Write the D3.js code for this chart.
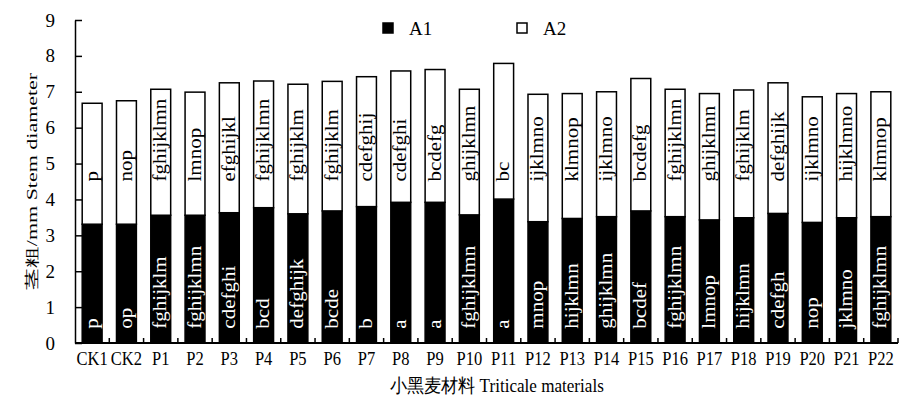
<!DOCTYPE html>
<html>
<head>
<meta charset="utf-8">
<script src="https://cdn.jsdelivr.net/npm/d3@7"></script>
<style>
  body { margin: 0; background: #fff; }
  svg { display: block; font-family: "Liberation Serif", "Times New Roman", serif; }
</style>
</head>
<body>
<div id="chart"></div>
<script>
// categories and values
const categories = ["CK1", "CK2", "P1", "P2", "P3", "P4", "P5", "P6", "P7", "P8", "P9", "P10",
  "P11", "P12", "P13", "P14", "P15", "P16", "P17", "P18", "P19", "P20", "P21", "P22"]
const a1Values = [3.31, 3.31, 3.56, 3.56, 3.63, 3.77, 3.60, 3.68, 3.80, 3.92, 3.92, 3.57,
  4.01, 3.38, 3.47, 3.52, 3.68, 3.52, 3.43, 3.49, 3.61, 3.36, 3.49, 3.52]
const a2Values = [3.37, 3.44, 3.51, 3.43, 3.62, 3.53, 3.61, 3.61, 3.62, 3.66, 3.70, 3.50,
  3.78, 3.55, 3.48, 3.48, 3.69, 3.55, 3.52, 3.56, 3.64, 3.50, 3.46, 3.48]
const a1Letters = ["p", "op", "fghijklm", "fghijklmn", "cdefghi", "bcd", "defghijk", "bcde", "b", "a", "a", "fghijklmn",
  "a", "mnop", "hijklmn", "ghijklmn", "bcdef", "fghijklmn", "lmnop", "hijklmn", "cdefgh", "nop", "jklmno", "fghijklmn"]
const a2Letters = ["p", "nop", "fghijklmn", "lmnop", "efghijkl", "fghijklmn", "fghijklm", "fghijklm", "cdefghij", "cdefghi", "bcdefg", "ghijklmn",
  "bc", "ijklmno", "klmnop", "ijklmno", "bcdefg", "fghijklmn", "ghijklmn", "fghijklm", "defghijk", "ijklmno", "hijklmno", "klmnop"]
const yTicks = [0, 1, 2, 3, 4, 5, 6, 7, 8, 9]
const seriesNames = ["A1", "A2"]

const anchoTotal = 903
const altoTotal = 406
const svg = d3.select("#chart")
  .append("svg")
  .attr("width", anchoTotal)
  .attr("height", altoTotal)

const x = d3.scaleBand()
  .domain(categories)
  .range([75, 898])
  .paddingInner(0.42)
  .paddingOuter(0.21)
const y = d3.scaleLinear()
  .domain([0, 9])
  .range([343, 20])

const tabla = categories.map((c, i) => ({ cat: c, A1: a1Values[i], A2: a2Values[i] }))
const series = d3.stack().keys(seriesNames)(tabla)
const fills = { A1: "#000", A2: "#fff" }

// bars
svg.append("g")
  .selectAll("g")
  .data(series)
  .join("g")
  .attr("fill", (s) => fills[s.key])
  .selectAll("rect")
  .data((s) => s)
  .join("rect")
  .attr("x", (d) => x(d.data.cat))
  .attr("y", (d) => y(d[1]))
  .attr("width", x.bandwidth())
  .attr("height", (d) => y(d[0]) - y(d[1]))
  .attr("stroke", "#000")
  .attr("stroke-width", 1.5)

// letters inside the bars
const letras = (arr, base, color) => {
  svg.append("g")
    .selectAll("text")
    .data(arr)
    .join("text")
    .attr("transform", (d, i) => `translate(${x(categories[i]) + x.bandwidth() / 2}, ${y(base)}) scale(0.88,1) rotate(-90)`)
    .attr("dy", "0.3em")
    .attr("font-size", 21)
    .attr("fill", color)
    .text((d) => d)
}
letras(a1Letters, 0.4, "#fff")
letras(a2Letters, 4.5, "#000")

// y axis
const yAxis = d3.axisLeft(y).tickValues(yTicks).tickSizeInner(-7).tickSizeOuter(0).tickPadding(20)
const gy = svg.append("g")
  .attr("transform", "translate(75,0)")
  .call(yAxis)
gy.select(".domain").attr("stroke-width", 1.5)
gy.selectAll(".tick line").attr("stroke-width", 1.5)
gy.selectAll("text").attr("font-size", 19).attr("font-family", "Liberation Serif").attr("fill", "#000")

// x axis
const xAxis = d3.axisBottom(x).tickSize(0).tickPadding(9)
const gx = svg.append("g")
  .attr("transform", "translate(0,343)")
  .call(xAxis)
gx.select(".domain").attr("stroke-width", 2).attr("d", "M75,0H898")
gx.selectAll(".tick text")
  .attr("font-size", 19)
  .attr("font-family", "Liberation Serif")
  .attr("fill", "#000")
  .attr("transform", "scale(0.87,1)")
gx.selectAll(".sep")
  .data(categories)
  .join("line")
  .attr("class", "sep")
  .attr("x1", (d) => x(d) + x.bandwidth() + (x.step() - x.bandwidth()) / 2)
  .attr("x2", (d) => x(d) + x.bandwidth() + (x.step() - x.bandwidth()) / 2)
  .attr("y1", 0)
  .attr("y2", -5)
  .attr("stroke", "#000")
  .attr("stroke-width", 1.5)

// axis titles
svg.append("text")
  .attr("transform", "translate(497,392) scale(0.9,1)")
  .attr("text-anchor", "middle")
  .attr("font-size", 19)
  .attr("fill", "#000")
  .text("小黑麦材料 Triticale materials")
svg.append("text")
  .attr("transform", `translate(37, ${y(4.5)}) scale(0.7,1) rotate(-90)`)
  .attr("text-anchor", "middle")
  .attr("font-size", 22)
  .attr("fill", "#000")
  .text("茎粗/mm Stem diameter")

// legend
const leyenda = svg.append("g")
  .selectAll("g")
  .data(seriesNames)
  .join("g")
  .attr("transform", (d, i) => `translate(${383 + i * 134}, 23)`)
leyenda.append("rect")
  .attr("width", 10)
  .attr("height", 10)
  .attr("fill", (d) => fills[d])
  .attr("stroke", "#000")
  .attr("stroke-width", 1.5)
leyenda.append("text")
  .attr("x", 26)
  .attr("y", 12)
  .attr("font-size", 19)
  .attr("fill", "#000")
  .text((d) => d)
</script>
</body>
</html>
